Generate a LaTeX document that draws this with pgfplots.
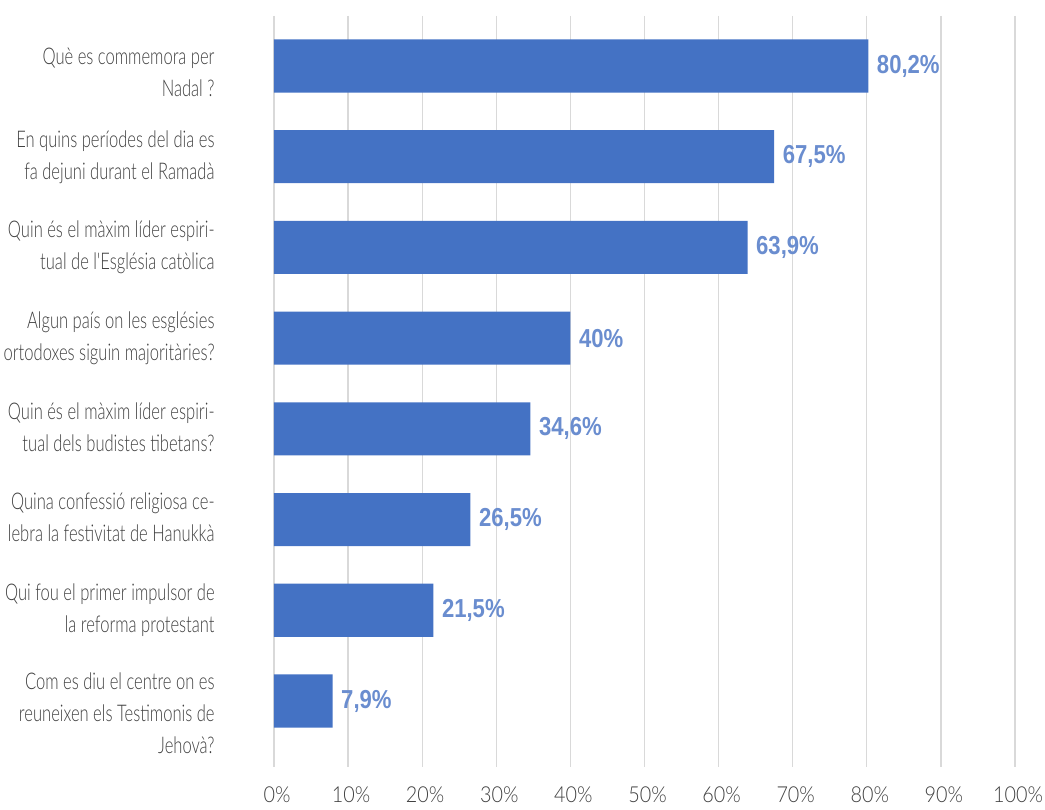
\documentclass[border=0pt]{standalone}
\usepackage{pgfplots}
\pgfplotsset{compat=1.18}
\usepackage{fontspec}
\setmainfont{Liberation Sans}
\newfontfamily\lightfont{Lato Light}
\definecolor{barc}{HTML}{4472C4}
\definecolor{valc}{HTML}{6A8DCF}
\definecolor{lblc}{HTML}{404040}
\definecolor{grdc}{HTML}{D9D9D9}
\newcommand{\cat}[2][0pt]{\raisebox{#1}[\height][\depth]{\scalebox{0.72}[1]{\lightfont\fontsize{23}{32}\selectfont\begin{tabular}{@{}r@{}}#2\end{tabular}}}}
\begin{document}
\begin{tikzpicture}
\begin{axis}[
  scale only axis, width=741pt, height=751pt,
  xmin=0, xmax=100, ymin=0.449, ymax=8.728, y dir=reverse,
  xbar, bar width=0.585,
  axis line style={draw=none},
  xtick={0,10,...,100}, ytick={1,...,8},
  yticklabels={
    {\cat[-8pt]{Què es commemora per\\Nadal ?}},
    {\cat{En quins períodes del dia es\\fa dejuni durant el Ramadà}},
    {\cat{Quin és el màxim líder espiri-\\tual de l'Església catòlica}},
    {\cat{Algun país on les esglésies\\ortodoxes siguin majoritàries?}},
    {\cat{Quin és el màxim líder espiri-\\tual dels budistes tibetans?}},
    {\cat{Quina confessió religiosa ce-\\lebra la festivitat de Hanukkà}},
    {\cat{Qui fou el primer impulsor de\\la reforma protestant}},
    {\cat[-14pt]{Com es diu el centre on es\\reuneixen els Testimonis de\\Jehovà?}}
  },
  xticklabel={\scalebox{0.9}[1]{\pgfmathprintnumber{\tick}\%}},
  major tick style={draw=none},
  xmajorgrids, major grid style={grdc, line width=1.3pt},
  xticklabel style={font=\lightfont\fontsize{22}{22}\selectfont, text=lblc, anchor=north, inner sep=0pt, yshift=-20pt, xshift=3pt},
  yticklabel style={text=lblc, anchor=east, inner sep=0pt, xshift=-55pt},
  point meta=x,
  nodes near coords={\scalebox{0.85}[1]{\pgfmathprintnumber{\pgfplotspointmeta}\%}},
  nodes near coords style={font=\bfseries\fontsize{26}{26}\selectfont, text=valc, anchor=west, inner sep=0pt, xshift=8.5pt},
  /pgf/number format/.cd, use comma, fixed, precision=1, assume math mode=true,
]
\addplot[fill=barc, draw=none] coordinates {(80.2,1) (67.5,2) (63.9,3) (40,4) (34.6,5) (26.5,6) (21.5,7) (7.9,8)};
\coordinate (bl) at (axis cs:0,8.728);
\coordinate (tr) at (axis cs:100,0.449);
\end{axis}
\pgfresetboundingbox
\path ([xshift=-274pt,yshift=-42pt]bl) rectangle ([xshift=30pt,yshift=16pt]tr);
\end{tikzpicture}
\end{document}
